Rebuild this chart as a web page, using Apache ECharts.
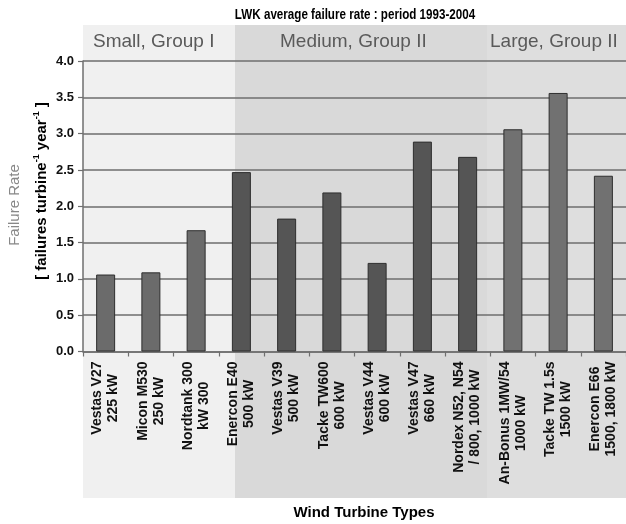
<!DOCTYPE html>
<html>
<head>
<meta charset="utf-8">
<script src="https://cdn.jsdelivr.net/npm/echarts@6/dist/echarts.min.js"></script>
<style>html,body{margin:0;padding:0;background:#fff}#c{width:626px;height:524px}</style>
</head>
<body>
<div id="c"></div>
<script>
const titleText = 'LWK average failure rate : period 1993-2004';
const categories = [
  'Vestas V27\n225 kW', 'Micon M530\n250 kW', 'Nordtank 300\nkW 300', 'Enercon E40\n500 kW',
  'Vestas V39\n500 kW', 'Tacke TW600\n600 kW', 'Vestas V44\n600 kW', 'Vestas V47\n660 kW',
  'Nordex N52, N54\n/ 800, 1000 kW', 'An-Bonus 1MW/54\n1000 kW', 'Tacke TW 1.5s\n1500 kW', 'Enercon E66\n1500, 1800 kW'
];
const failureRates = [1.06, 1.09, 1.67, 2.47, 1.83, 2.19, 1.22, 2.89, 2.68, 3.06, 3.56, 2.42];
const groups = ['small','small','small','medium','medium','medium','medium','medium','medium','large','large','large'];
const groupLabels = ['Small, Group I', 'Medium, Group II', 'Large, Group II'];
const yTicks = [0, 0.5, 1.0, 1.5, 2.0, 2.5, 3.0, 3.5, 4.0];
const xAxisTitle = 'Wind Turbine Types';

const barColors = { small: '#6b6b6b', medium: '#555555', large: '#717171' };
const NARROW = '"Liberation Sans Narrow", "Arial Narrow", "Liberation Sans", Arial, sans-serif';
const SANS = '"Liberation Sans", Arial, sans-serif';

const chart = echarts.init(document.getElementById('c'), null, { renderer: 'canvas' });
chart.setOption({
  animation: false,
  backgroundColor: '#ffffff',
  grid: { left: 83, top: 61, width: 555, height: 290.5, containLabel: false },
  xAxis: {
    type: 'category',
    data: categories,
    axisLine: { lineStyle: { color: '#6f6f6f', width: 1.5 } },
    axisTick: { show: true, length: 5, lineStyle: { color: '#6f6f6f', width: 1.2 } },
    axisLabel: {
      interval: 0, rotate: 90, margin: 10,
      fontFamily: SANS, fontSize: 14, fontWeight: 'bold', color: '#111',
      formatter: function (v) { return v.split('\n').map(l => '{c|' + l + '}').join('\n'); },
      rich: { c: { align: 'center', fontFamily: SANS, fontSize: 14, fontWeight: 'bold', color: '#111', lineHeight: 16 } }
    }
  },
  yAxis: {
    type: 'value', min: 0, max: 4, interval: 0.5,
    axisLine: { show: true, lineStyle: { color: '#6f6f6f', width: 1.5 } },
    axisTick: { show: true, length: 5, lineStyle: { color: '#6f6f6f', width: 1.2 } },
    splitLine: { lineStyle: { color: '#6e6e6e', width: 1.6 } },
    axisLabel: {
      margin: 9, fontFamily: NARROW, fontSize: 13, fontWeight: 'bold', color: '#111',
      formatter: v => yTicks.includes(v) ? v.toFixed(1) : ''
    }
  },
  graphic: [
    { type: 'rect', z: -10, silent: true, shape: { x: 83, y: 25, width: 152, height: 473 }, style: { fill: '#f0f0f0' } },
    { type: 'rect', z: -10, silent: true, shape: { x: 235, y: 25, width: 252, height: 473 }, style: { fill: '#d9d9d9' } },
    { type: 'rect', z: -10, silent: true, shape: { x: 487, y: 25, width: 139, height: 473 }, style: { fill: '#dedede' } },
    { type: 'text', z: 5, silent: true, x: 355, y: 15, scaleX: 0.83,
      style: { text: titleText, fontFamily: SANS, fontSize: 14, fontWeight: 'bold', fill: '#000', align: 'center', verticalAlign: 'middle' } },
    { type: 'text', z: 5, silent: true, x: 93, y: 42, style: { text: groupLabels[0], fontFamily: SANS, fontSize: 19, fill: '#5a5a5a', verticalAlign: 'middle' } },
    { type: 'text', z: 5, silent: true, x: 280, y: 42, style: { text: groupLabels[1], fontFamily: SANS, fontSize: 19, fill: '#5a5a5a', verticalAlign: 'middle' } },
    { type: 'text', z: 5, silent: true, x: 490, y: 42, style: { text: groupLabels[2], fontFamily: SANS, fontSize: 19, fill: '#5a5a5a', verticalAlign: 'middle' } },
    { type: 'text', z: 5, silent: true, x: 15, y: 205, rotation: Math.PI / 2,
      style: { text: 'Failure Rate', fontFamily: SANS, fontSize: 15, fill: '#888', align: 'center', verticalAlign: 'middle' } },
    { type: 'text', z: 5, silent: true, x: 40, y: 191, rotation: Math.PI / 2,
      style: {
        text: '{b|[ failures turbine}{s|-1}{b| year}{s|-1}{b| ]}',
        align: 'center', verticalAlign: 'middle',
        rich: {
          b: { fontFamily: SANS, fontSize: 15, fontWeight: 'bold', fill: '#000', lineHeight: 18, verticalAlign: 'bottom' },
          s: { fontFamily: SANS, fontSize: 9, fontWeight: 'bold', fill: '#000', lineHeight: 18, verticalAlign: 'bottom', padding: [0, 0, 8, 0] }
        }
      } },
    { type: 'text', z: 5, silent: true, x: 364, y: 513,
      style: { text: xAxisTitle, fontFamily: SANS, fontSize: 15, fontWeight: 'bold', fill: '#000', align: 'center', verticalAlign: 'middle' } }
  ],
  series: [{
    type: 'bar',
    barWidth: 19,
    data: failureRates.map((v, i) => ({ value: v, itemStyle: { color: barColors[groups[i]] } })),
    itemStyle: { borderColor: '#2e2e2e', borderWidth: 1 }
  }]
});
</script>
</body>
</html>
